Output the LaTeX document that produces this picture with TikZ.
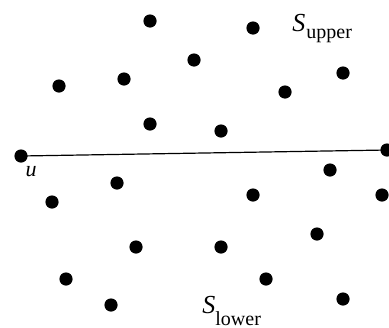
\documentclass[tikz,border=0pt]{standalone}
\usepackage{fontspec}
\setmainfont{Liberation Serif}
\begin{document}
\begin{tikzpicture}[x=0.5pt,y=-0.5pt,
  pt/.style={circle,fill=black,inner sep=0pt,minimum size=6.6pt},
  bigS/.style={inner sep=0pt,anchor=base west,font=\fontsize{13}{15}\selectfont\itshape},
  sub/.style={inner sep=0pt,anchor=base west,font=\fontsize{10}{12}\selectfont}]
\useasboundingbox (0,0) rectangle (389,327);
% upper points
\node[pt] (a1) at (150,21) {};
\node[pt] (a2) at (253,28) {};
\node[pt] (a3) at (194,60) {};
\node[pt] (a4) at (343,73) {};
\node[pt] (a5) at (124,79) {};
\node[pt] (a6) at (59,86) {};
\node[pt] (a7) at (285,92) {};
\node[pt] (a8) at (150,124) {};
\node[pt] (a9) at (221,131) {};
% line endpoints
\node[pt] (u) at (21,156) {};
\node[pt] (v) at (387,150) {};
\draw[line width=0.6pt] (u.center) -- (v.center);
% lower points
\node[pt] (b1) at (330,170) {};
\node[pt] (b2) at (117,183) {};
\node[pt] (b3) at (253,195) {};
\node[pt] (b4) at (382,195) {};
\node[pt] (b5) at (52,202) {};
\node[pt] (b6) at (317,234) {};
\node[pt] (b7) at (136,247) {};
\node[pt] (b8) at (221,247) {};
\node[pt] (b9) at (66,279) {};
\node[pt] (b10) at (266,279) {};
\node[pt] (b11) at (343,299) {};
\node[pt] (b12) at (111,305) {};
% labels
\node[inner sep=0pt,font=\fontsize{11}{13}\selectfont\itshape] (ul) at (31,172) {u};
\node[bigS] (su) at (292,31) {S};
\node[sub] (sus) at (306,38) {upper};
\node[bigS] (sl) at (202,313) {S};
\node[sub] (sls) at (215,325) {lower};
\end{tikzpicture}
\end{document}
